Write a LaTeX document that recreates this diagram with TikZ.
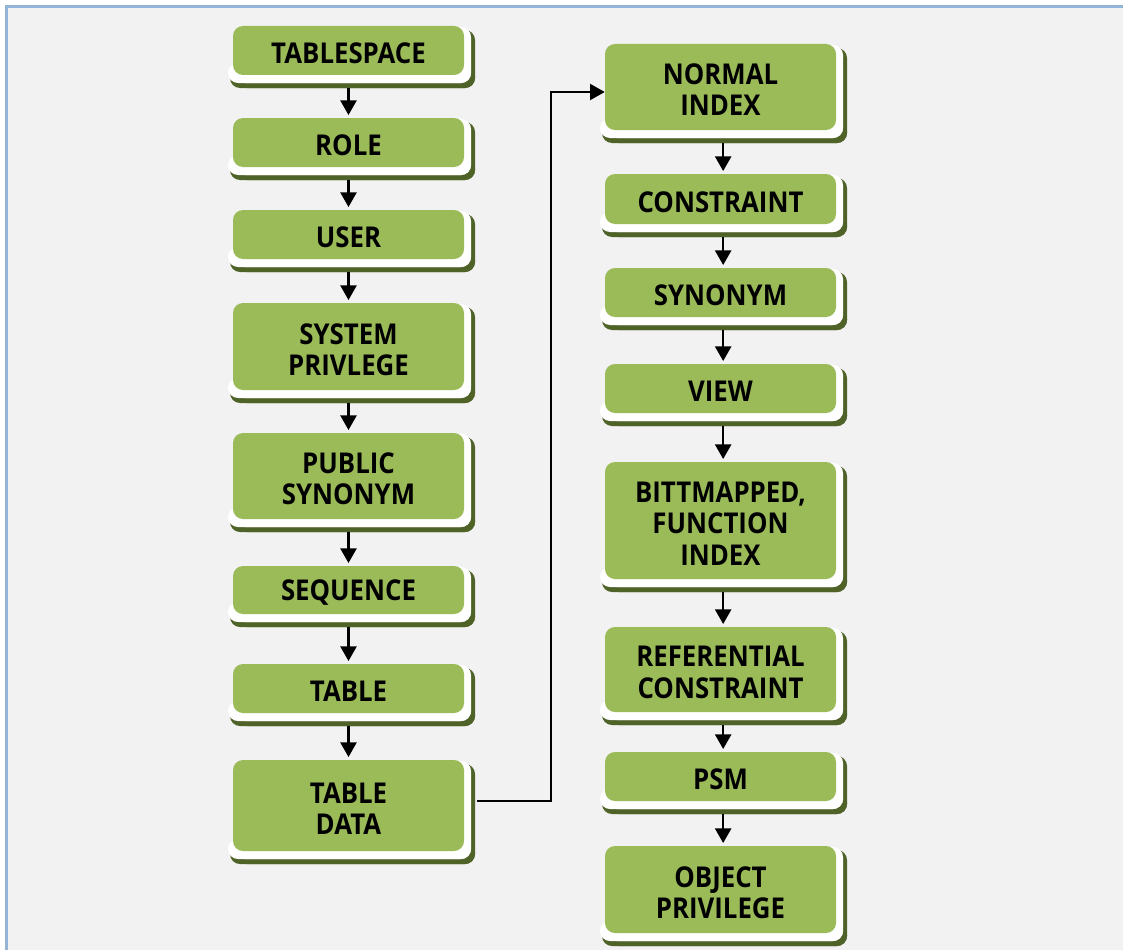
\documentclass[tikz,border=0pt]{standalone}
\usepackage{fontspec}
\setmainfont{Open Sans}[FakeStretch=0.9]
\usetikzlibrary{arrows.meta,calc}
\definecolor{bggray}{HTML}{F2F2F2}
\definecolor{framecol}{HTML}{95B3D7}
\definecolor{boxgreen}{HTML}{9BBB59}
\definecolor{boxshade}{HTML}{4F6228}
\tikzset{
  objbox/.style={fill=boxgreen, rounded corners=7.5pt, inner sep=0pt},
  boxtext/.style={inner sep=0pt, align=center,
     font=\bfseries\fontsize{21.5}{23.5}\selectfont, text=black},
  arr/.style={line width=1.8pt, -{Triangle[width=12pt,length=11pt]}},
  link/.style={line width=1.5pt, -{Triangle[width=12pt,length=11pt]}},
}
% name, x1, y1, x2, y2, text
\newcommand\obox[6]{%
  \fill[boxshade, rounded corners=7.5pt] ({#2+4},{#3+4}) rectangle ({#4+11},{#5+13});
  \fill[boxshade, rounded corners=7.5pt] ({#2-3},{#5-8}) rectangle ({#4+11},{#5+13});
  \fill[white, rounded corners=7.5pt] ({#2+2},{#3+1}) rectangle ({#4+7},{#5+8});
  \fill[white, rounded corners=7.5pt] ({#2-5},{#5-12}) rectangle ({#4+7},{#5+8});
  \node[objbox, minimum width={(#4-#2)*0.75pt}, minimum height={(#5-#3)*0.75pt}]
     (#1) at ({(#2+#4)/2},{(#3+#5)/2}) {};
  \node[boxtext] (#1-t) at ([yshift=-2.2pt]#1.center) {#6};
}
\begin{document}
\begin{tikzpicture}[x=0.75pt,y=-0.75pt]
\useasboundingbox (0,0) rectangle (1123,949);
\clip (0,0) rectangle (1123,949);
\fill[white] (0,0) rectangle (1123,949);
\draw[framecol, line width=1.6pt, fill=bggray] (6.5,6.5) rectangle (1160,990);
% left column
\obox{ts}{233}{26}{464}{75}{TABLESPACE}
\obox{role}{233}{118}{464}{167}{ROLE}
\obox{user}{233}{210}{464}{259}{USER}
\obox{sp}{233}{303}{464}{390}{SYSTEM\\PRIVLEGE}
\obox{ps}{233}{433}{464}{519}{PUBLIC\\SYNONYM}
\obox{seq}{233}{566}{464}{614}{SEQUENCE}
\obox{tab}{233}{664}{464}{713}{TABLE}
\obox{td}{233}{760}{464}{851}{TABLE\\DATA}
% right column
\obox{ni}{605}{44}{836}{130}{NORMAL\\INDEX}
\obox{con}{605}{174}{836}{224}{CONSTRAINT}
\obox{syn}{605}{268}{836}{317}{SYNONYM}
\obox{view}{605}{364}{836}{413}{VIEW}
\obox{bfi}{605}{462}{836}{579}{BITTMAPPED,\\FUNCTION\\INDEX}
\obox{rc}{605}{627}{836}{712}{REFERENTIAL\\CONSTRAINT}
\obox{psm}{605}{752}{836}{801}{PSM}
\obox{op}{605}{846}{836}{933}{OBJECT\\PRIVILEGE}
% arrows left
\foreach \a/\b in {ts/role,role/user,user/sp,sp/ps,ps/seq,seq/tab,tab/td}{
  \draw[arr] ([yshift=-9.5pt]\a.south) -- ([yshift=2pt]\b.north);
}
\foreach \a/\b in {ni/con,con/syn,syn/view,view/bfi,bfi/rc,rc/psm,psm/op}{
  \draw[arr] ([xshift=2pt,yshift=-9.5pt]\a.south) -- ([xshift=2pt,yshift=2pt]\b.north);
}
\coordinate (bend) at (551,92);
\draw[link] ([xshift=9.5pt,yshift=3.4pt]td.east) -| (bend) -- (bend -| ni.west);
\end{tikzpicture}
\end{document}
